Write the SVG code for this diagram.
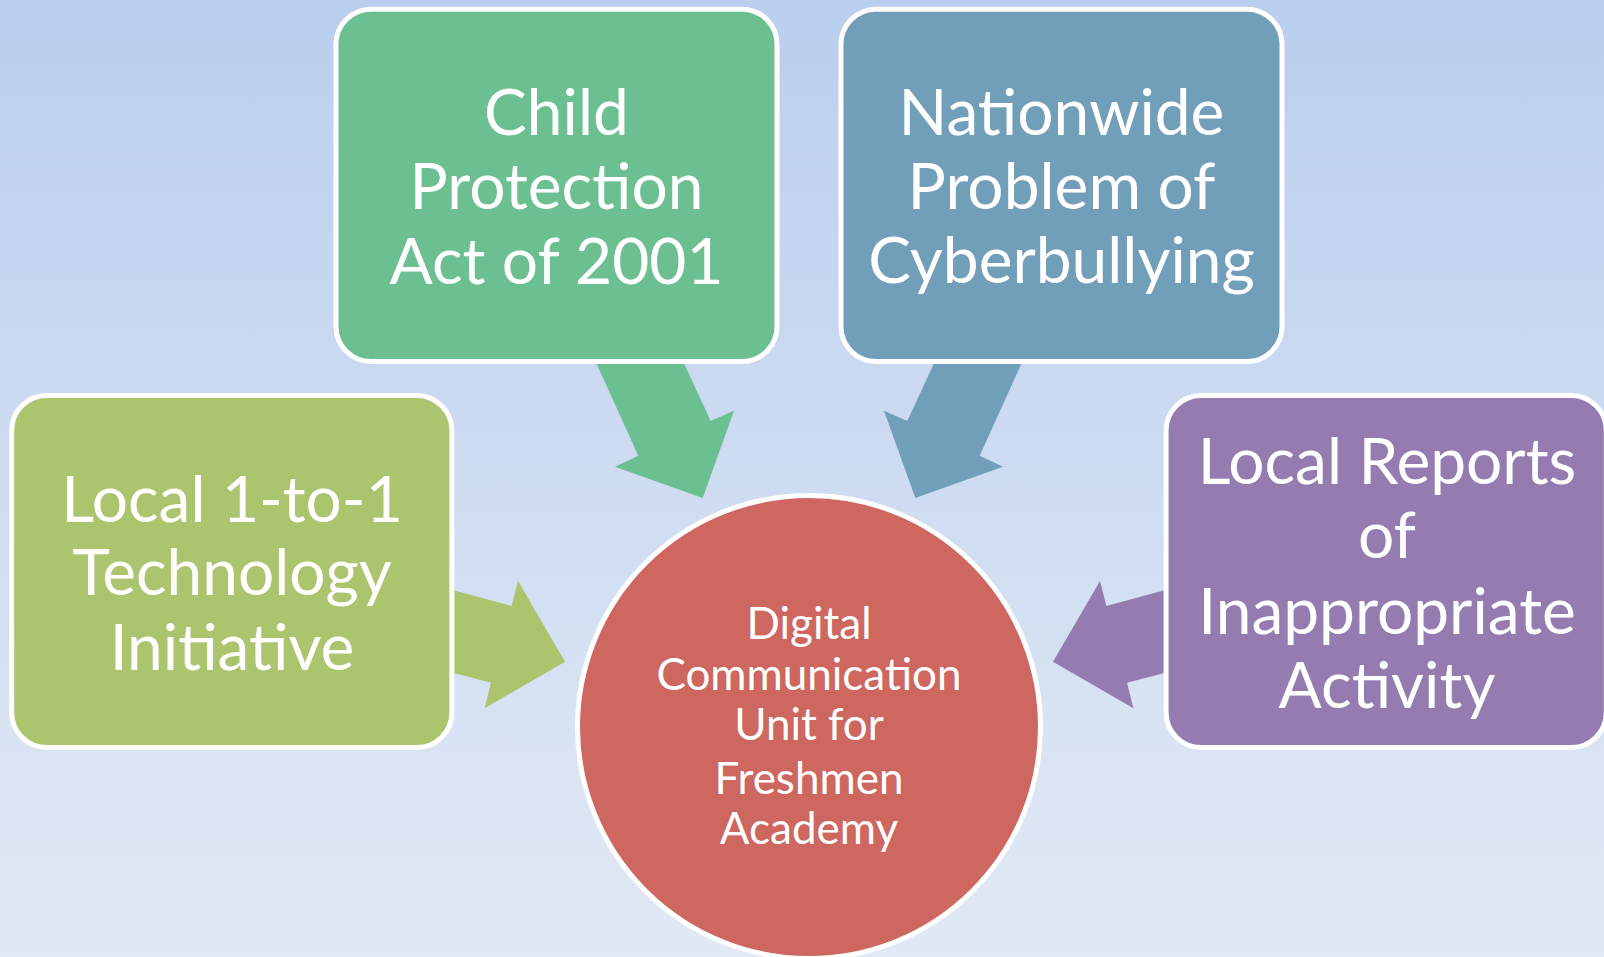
<svg xmlns="http://www.w3.org/2000/svg" width="1604" height="957" viewBox="0 0 1604 957">
<defs>
<linearGradient id="bg" x1="0" y1="0" x2="0" y2="1">
<stop offset="0" stop-color="#bacfee"/>
<stop offset="1" stop-color="#e2e9f5"/>
</linearGradient>
<style>
.box{stroke:#ffffff;stroke-width:5}
.t{font-family:Lato,"Open Sans","Liberation Sans",sans-serif;fill:#ffffff;text-anchor:middle}
.big{font-size:64px}
.small{font-size:44px}
</style>
</defs>
<rect x="0" y="0" width="1604" height="957" fill="url(#bg)"/>
<g id="connectors">
<polygon fill="#6cbf91" points="581.3,330 668.6,330 710.7,421 734,410.7 702.7,498 615,466.7 638.3,455.7"/>
<polygon fill="#719eb9" points="1036.7,330 949.4,330 907.3,421 884,410.7 915.3,498 1003,466.7 979.7,455.7"/>
<polygon fill="#abc46d" points="400,575.8 511.6,606 518,581 565,661.7 484.6,708.3 491,682.7 400,658.9"/>
<polygon fill="#947bb0" points="1218,575.8 1106.4,606 1100,581 1053,661.7 1133.4,708.3 1127,682.7 1218,658.9"/>
</g>
<g id="node-center">
<circle cx="809" cy="727" r="231.5" fill="#cd675f" stroke="#ffffff" stroke-width="5"/>
<text class="t small" x="809" y="639">Digital</text>
<text class="t small" x="809" y="690">Communication</text>
<text class="t small" x="809" y="740">Unit for</text>
<text class="t small" x="809" y="794">Freshmen</text>
<text class="t small" x="809" y="844">Academy</text>
</g>
<g id="node-child">
<rect class="box" x="336" y="9.2" width="441" height="352.3" rx="35" fill="#6cbf91"/>
<text class="t big" x="556.5" y="135">Child</text>
<text class="t big" x="556.5" y="209">Protection</text>
<text class="t big" x="556.5" y="284">Act of 2001</text>
</g>
<g id="node-cyber">
<rect class="box" x="841" y="9.2" width="441" height="352.3" rx="35" fill="#719eb9"/>
<text class="t big" x="1061.5" y="135">Nationwide</text>
<text class="t big" x="1061.5" y="209">Problem of</text>
<text class="t big" x="1061.5" y="283">Cyberbullying</text>
</g>
<g id="node-local">
<rect class="box" x="11.7" y="395.5" width="440.2" height="352" rx="35" fill="#abc46d"/>
<text class="t big" x="232" y="521.7">Local 1-to-1</text>
<text class="t big" x="232" y="595">Technology</text>
<text class="t big" x="232" y="670">Initiative</text>
</g>
<g id="node-reports">
<rect class="box" x="1166.1" y="395.5" width="440.2" height="352" rx="35" fill="#947bb0"/>
<text class="t big" x="1387" y="484">Local Reports</text>
<text class="t big" x="1387" y="558">of</text>
<text class="t big" x="1387" y="634">Inappropriate</text>
<text class="t big" x="1387" y="708">Activity</text>
</g>
</svg>
